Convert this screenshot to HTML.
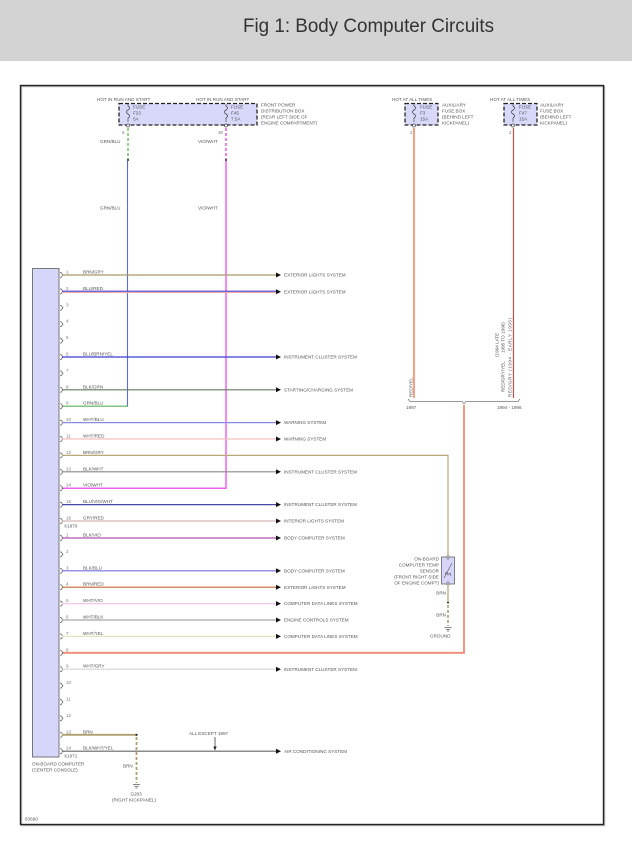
<!DOCTYPE html>
<html><head><meta charset="utf-8"><style>
html,body{margin:0;padding:0;background:#fff;}
svg{display:block;}
.t{font-family:"Liberation Sans",sans-serif;font-size:4.6px;fill:#555;}
.p{font-family:"Liberation Sans",sans-serif;font-size:4.6px;fill:#777;}
</style></head><body>
<svg width="632" height="842" viewBox="0 0 632 842" xmlns="http://www.w3.org/2000/svg">
<rect x="0" y="0" width="632" height="61" fill="#d3d3d3"/>
<text x="243" y="32" font-family="Liberation Sans, sans-serif" font-size="19" fill="#333" textLength="251" lengthAdjust="spacingAndGlyphs">Fig 1: Body Computer Circuits</text>

<!-- frame -->
<rect x="21.5" y="86.5" width="583" height="739" fill="none" stroke="#bbb" stroke-width="1.5"/>
<rect x="20.5" y="85.5" width="583" height="739" fill="none" stroke="#222" stroke-width="1.4"/>

<!-- top left fuses -->
<text class="t" x="97" y="101">HOT IN RUN AND START</text>
<text class="t" x="196" y="101">HOT IN RUN AND START</text>
<rect x="119" y="103.5" width="138" height="21.5" fill="#d8d8fa" stroke="#222" stroke-width="1.3" stroke-dasharray="4,2"/>
<path d="M128,104 l0,2 c2,1 2,3 0,4 c-2,1 -2,3 0,4 c2,1 2,3 0,4 l0,4" fill="none" stroke="#444" stroke-width="0.7"/>
<circle cx="128" cy="125.5" r="1.5" fill="#fff" stroke="#444" stroke-width="0.7"/>
<path d="M226,104 l0,2 c2,1 2,3 0,4 c-2,1 -2,3 0,4 c2,1 2,3 0,4 l0,4" fill="none" stroke="#444" stroke-width="0.7"/>
<circle cx="226" cy="125.5" r="1.5" fill="#fff" stroke="#444" stroke-width="0.7"/>
<text class="t" x="133" y="108.5">FUSE</text>
<text class="t" x="133" y="114.5">F23</text>
<text class="t" x="133" y="120.5">5A</text>
<text class="t" x="231" y="108.5">FUSE</text>
<text class="t" x="231" y="114.5">F45</text>
<text class="t" x="231" y="120.5">7.5A</text>
<text class="t" x="261" y="106.5">FRONT POWER</text>
<text class="t" x="261" y="112.5">DISTRIBUTION BOX</text>
<text class="t" x="261" y="118.5">(REAR LEFT SIDE OF</text>
<text class="t" x="261" y="124.5">ENGINE COMPARTMENT)</text>
<text class="p" x="122" y="134">6</text>
<text class="p" x="218" y="134">30</text>
<text class="t" x="100" y="143">GRN/BLU</text>
<text class="t" x="198" y="143">VIO/WHT</text>
<text class="t" x="100" y="209.5">GRN/BLU</text>
<text class="t" x="198" y="209.5">VIO/WHT</text>
<line x1="128" y1="128" x2="128" y2="159" stroke="#55bb44" stroke-width="1.3" stroke-dasharray="3,2"/>
<line x1="226" y1="128" x2="226" y2="159" stroke="#f050f0" stroke-width="1.5" stroke-dasharray="3,2"/>
<circle cx="128" cy="160" r="1" fill="#222"/>
<circle cx="226" cy="160" r="1" fill="#222"/>
<!-- GRN/BLU vertical -->
<line x1="127.5" y1="161" x2="127.5" y2="406.2" stroke="#5c6cd0" stroke-width="1.1"/>
<line x1="62" y1="406.2" x2="128" y2="406.2" stroke="#5ab05a" stroke-width="1.2"/>
<!-- VIO/WHT vertical -->
<path d="M226,161 V488.2 H62" fill="none" stroke="#f060f0" stroke-width="1.5"/>

<!-- right fuses -->
<text class="t" x="392" y="101">HOT AT ALL TIMES</text>
<text class="t" x="490" y="101">HOT AT ALL TIMES</text>
<rect x="405" y="103.5" width="33" height="21.5" fill="#d8d8fa" stroke="#222" stroke-width="1.3" stroke-dasharray="4,2"/>
<rect x="504" y="103.5" width="33" height="21.5" fill="#d8d8fa" stroke="#222" stroke-width="1.3" stroke-dasharray="4,2"/>
<path d="M414,104 l0,2 c2,1 2,3 0,4 c-2,1 -2,3 0,4 c2,1 2,3 0,4 l0,4" fill="none" stroke="#444" stroke-width="0.7"/>
<circle cx="414" cy="125.5" r="1.5" fill="#fff" stroke="#444" stroke-width="0.7"/>
<path d="M513,104 l0,2 c2,1 2,3 0,4 c-2,1 -2,3 0,4 c2,1 2,3 0,4 l0,4" fill="none" stroke="#444" stroke-width="0.7"/>
<circle cx="513" cy="125.5" r="1.5" fill="#fff" stroke="#444" stroke-width="0.7"/>
<text class="t" x="420" y="108.5">FUSE</text>
<text class="t" x="420" y="114.5">F3</text>
<text class="t" x="420" y="120.5">15A</text>
<text class="t" x="519" y="108.5">FUSE</text>
<text class="t" x="519" y="114.5">F47</text>
<text class="t" x="519" y="120.5">15A</text>
<text class="t" x="442" y="106.5">AUXILIARY</text>
<text class="t" x="442" y="112.5">FUSE BOX</text>
<text class="t" x="442" y="118.5">(BEHIND LEFT</text>
<text class="t" x="442" y="124.5">KICKPANEL)</text>
<text class="t" x="540" y="106.5">AUXILIARY</text>
<text class="t" x="540" y="112.5">FUSE BOX</text>
<text class="t" x="540" y="118.5">(BEHIND LEFT</text>
<text class="t" x="540" y="124.5">KICKPANEL)</text>
<text class="p" x="410" y="134">2</text>
<text class="p" x="509" y="134">2</text>
<line x1="414" y1="128" x2="414" y2="398" stroke="#f8a080" stroke-width="2"/>
<line x1="513.5" y1="128" x2="513.5" y2="398" stroke="#d84040" stroke-width="1.1"/>
<text class="t" transform="translate(412.5,397) rotate(-90)">RED/YEL</text>
<text class="t" transform="translate(511.5,397) rotate(-90)" textLength="79">RED/GRY  (1994 - EARLY 1995)</text>
<text class="t" transform="translate(504.5,392) rotate(-90)">RED/GRY/YEL</text>
<text class="t" transform="translate(504.5,353) rotate(-90)">1995 TO 1996)</text>
<text class="t" transform="translate(498.5,357) rotate(-90)">(1994 LATE</text>
<path d="M408,399 L410,401.5 H462 L464,404 L466,401.5 H518 L520,399" fill="none" stroke="#777" stroke-width="0.7"/>
<text class="t" x="406" y="409">1997</text>
<text class="t" x="497" y="409">1994 - 1996</text>
<!-- orange to pin 8 -->
<path d="M464,405 V652.8 H62" fill="none" stroke="#f08a70" stroke-width="1.8"/>

<!-- connector -->
<rect x="32.5" y="268.5" width="26.5" height="488.5" fill="#d6d6fb" stroke="#777" stroke-width="1"/>

<!-- brackets -->
<g fill="none" stroke="#555" stroke-width="0.7">
<path d="M60,272.5 q2,0 2,1.5 l1,1 l-1,1 q0,1.5 -2,1.5"/>
<path d="M60,288.9 q2,0 2,1.5 l1,1 l-1,1 q0,1.5 -2,1.5"/>
<path d="M60,305.3 q2,0 2,1.5 l1,1 l-1,1 q0,1.5 -2,1.5"/>
<path d="M60,321.7 q2,0 2,1.5 l1,1 l-1,1 q0,1.5 -2,1.5"/>
<path d="M60,338.1 q2,0 2,1.5 l1,1 l-1,1 q0,1.5 -2,1.5"/>
<path d="M60,354.5 q2,0 2,1.5 l1,1 l-1,1 q0,1.5 -2,1.5"/>
<path d="M60,370.9 q2,0 2,1.5 l1,1 l-1,1 q0,1.5 -2,1.5"/>
<path d="M60,387.3 q2,0 2,1.5 l1,1 l-1,1 q0,1.5 -2,1.5"/>
<path d="M60,403.7 q2,0 2,1.5 l1,1 l-1,1 q0,1.5 -2,1.5"/>
<path d="M60,420.1 q2,0 2,1.5 l1,1 l-1,1 q0,1.5 -2,1.5"/>
<path d="M60,436.5 q2,0 2,1.5 l1,1 l-1,1 q0,1.5 -2,1.5"/>
<path d="M60,452.9 q2,0 2,1.5 l1,1 l-1,1 q0,1.5 -2,1.5"/>
<path d="M60,469.3 q2,0 2,1.5 l1,1 l-1,1 q0,1.5 -2,1.5"/>
<path d="M60,485.7 q2,0 2,1.5 l1,1 l-1,1 q0,1.5 -2,1.5"/>
<path d="M60,502.1 q2,0 2,1.5 l1,1 l-1,1 q0,1.5 -2,1.5"/>
<path d="M60,518.5 q2,0 2,1.5 l1,1 l-1,1 q0,1.5 -2,1.5"/>
<path d="M60,535.5 q2,0 2,1.5 l1,1 l-1,1 q0,1.5 -2,1.5"/>
<path d="M60,551.9 q2,0 2,1.5 l1,1 l-1,1 q0,1.5 -2,1.5"/>
<path d="M60,568.3 q2,0 2,1.5 l1,1 l-1,1 q0,1.5 -2,1.5"/>
<path d="M60,584.7 q2,0 2,1.5 l1,1 l-1,1 q0,1.5 -2,1.5"/>
<path d="M60,601.1 q2,0 2,1.5 l1,1 l-1,1 q0,1.5 -2,1.5"/>
<path d="M60,617.5 q2,0 2,1.5 l1,1 l-1,1 q0,1.5 -2,1.5"/>
<path d="M60,633.9 q2,0 2,1.5 l1,1 l-1,1 q0,1.5 -2,1.5"/>
<path d="M60,650.3 q2,0 2,1.5 l1,1 l-1,1 q0,1.5 -2,1.5"/>
<path d="M60,666.7 q2,0 2,1.5 l1,1 l-1,1 q0,1.5 -2,1.5"/>
<path d="M60,683.1 q2,0 2,1.5 l1,1 l-1,1 q0,1.5 -2,1.5"/>
<path d="M60,699.5 q2,0 2,1.5 l1,1 l-1,1 q0,1.5 -2,1.5"/>
<path d="M60,715.9 q2,0 2,1.5 l1,1 l-1,1 q0,1.5 -2,1.5"/>
<path d="M60,732.3 q2,0 2,1.5 l1,1 l-1,1 q0,1.5 -2,1.5"/>
<path d="M60,748.7 q2,0 2,1.5 l1,1 l-1,1 q0,1.5 -2,1.5"/>
</g>

<!-- pin numbers -->
<text class="p" x="66" y="273.5">1</text>
<text class="p" x="66" y="289.9">2</text>
<text class="p" x="66" y="306.3">3</text>
<text class="p" x="66" y="322.7">4</text>
<text class="p" x="66" y="339.1">5</text>
<text class="p" x="66" y="355.5">6</text>
<text class="p" x="66" y="371.9">7</text>
<text class="p" x="66" y="388.3">8</text>
<text class="p" x="66" y="404.7">9</text>
<text class="p" x="66" y="421.1">10</text>
<text class="p" x="66" y="437.5">11</text>
<text class="p" x="66" y="453.9">12</text>
<text class="p" x="66" y="470.3">13</text>
<text class="p" x="66" y="486.7">14</text>
<text class="p" x="66" y="503.1">15</text>
<text class="p" x="66" y="519.5">16</text>
<text class="p" x="66" y="536.5">1</text>
<text class="p" x="66" y="552.9">2</text>
<text class="p" x="66" y="569.3">3</text>
<text class="p" x="66" y="585.7">4</text>
<text class="p" x="66" y="602.1">5</text>
<text class="p" x="66" y="618.5">6</text>
<text class="p" x="66" y="634.9">7</text>
<text class="p" x="66" y="651.3">8</text>
<text class="p" x="66" y="667.7">9</text>
<text class="p" x="66" y="684.1">10</text>
<text class="p" x="66" y="700.5">11</text>
<text class="p" x="66" y="716.9">12</text>
<text class="p" x="66" y="733.3">13</text>
<text class="p" x="66" y="749.7">14</text>
<text class="t" x="64" y="527.5">X1870</text>
<text class="t" x="64" y="757.5">X1071</text>
<text class="t" x="32" y="765.5">ON-BOARD COMPUTER</text>
<text class="t" x="32" y="771.5">(CENTER CONSOLE)</text>

<!-- wires -->
<g stroke-width="1.2" fill="none">
<line x1="62" y1="275" x2="277" y2="275" stroke="#a89868"/>
<line x1="62" y1="292.4" x2="277" y2="292.4" stroke="#f4a8a8"/>
<line x1="62" y1="291.2" x2="277" y2="291.2" stroke="#4444d8"/>
<line x1="62" y1="357" x2="277" y2="357" stroke="#3a3ad0"/>
<line x1="62" y1="389.8" x2="277" y2="389.8" stroke="#607860"/>
<line x1="62" y1="422.6" x2="277" y2="422.6" stroke="#8888e0"/>
<line x1="62" y1="439" x2="277" y2="439" stroke="#f4c0c0"/>
<path d="M62,455.4 H448 V557" stroke="#b8a878"/>
<line x1="62" y1="471.8" x2="277" y2="471.8" stroke="#888"/>
<line x1="62" y1="504.6" x2="277" y2="504.6" stroke="#4848a8"/>
<line x1="62" y1="521" x2="277" y2="521" stroke="#d4b8b8"/>
<line x1="62" y1="538" x2="277" y2="538" stroke="#b050b0"/>
<line x1="62" y1="570.8" x2="277" y2="570.8" stroke="#7070e0"/>
<line x1="62" y1="587.2" x2="277" y2="587.2" stroke="#c06838"/>
<line x1="62" y1="603.6" x2="277" y2="603.6" stroke="#f0c4f0"/>
<line x1="62" y1="620" x2="277" y2="620" stroke="#a8a8a8"/>
<line x1="62" y1="636.4" x2="277" y2="636.4" stroke="#e4e4c0"/>
<line x1="62" y1="669.2" x2="277" y2="669.2" stroke="#d4d4d4"/>
<line x1="62" y1="734.8" x2="136" y2="734.8" stroke="#b0a070" stroke-width="1.8"/>
<line x1="62" y1="751.2" x2="277" y2="751.2" stroke="#666"/>
</g>

<!-- wire labels -->
<text class="t" x="83" y="273.5">BRN/GRY</text>
<text class="t" x="83" y="289.9">BLU/RED</text>
<text class="t" x="83" y="355.5">BLU/BRN/YEL</text>
<text class="t" x="83" y="388.3">BLK/GRN</text>
<text class="t" x="83" y="404.7">GRN/BLU</text>
<text class="t" x="83" y="421.1">WHT/BLU</text>
<text class="t" x="83" y="437.5">WHT/RED</text>
<text class="t" x="83" y="453.9">BRN/GRY</text>
<text class="t" x="83" y="470.3">BLK/WHT</text>
<text class="t" x="83" y="486.7">VIO/WHT</text>
<text class="t" x="83" y="503.1">BLU/VIO/WHT</text>
<text class="t" x="83" y="519.5">GRY/RED</text>
<text class="t" x="83" y="536.5">BLK/VIO</text>
<text class="t" x="83" y="569.3">BLK/BLU</text>
<text class="t" x="83" y="585.7">BRN/RED</text>
<text class="t" x="83" y="602.1">WHT/VIO</text>
<text class="t" x="83" y="618.5">WHT/BLK</text>
<text class="t" x="83" y="634.9">WHT/YEL</text>
<text class="t" x="83" y="667.7">WHT/GRY</text>
<text class="t" x="83" y="733.3">BRN</text>
<text class="t" x="83" y="749.7">BLK/WHT/YEL</text>

<!-- arrows -->
<g fill="#111">
<path d="M276,272.5 L281,275 L276,277.5Z"/>
<path d="M276,289.3 L281,291.8 L276,294.3Z"/>
<path d="M276,354.5 L281,357 L276,359.5Z"/>
<path d="M276,387.3 L281,389.8 L276,392.3Z"/>
<path d="M276,420.1 L281,422.6 L276,425.1Z"/>
<path d="M276,436.5 L281,439 L276,441.5Z"/>
<path d="M276,469.3 L281,471.8 L276,474.3Z"/>
<path d="M276,502.1 L281,504.6 L276,507.1Z"/>
<path d="M276,518.5 L281,521 L276,523.5Z"/>
<path d="M276,535.5 L281,538 L276,540.5Z"/>
<path d="M276,568.3 L281,570.8 L276,573.3Z"/>
<path d="M276,584.7 L281,587.2 L276,589.7Z"/>
<path d="M276,601.1 L281,603.6 L276,606.1Z"/>
<path d="M276,617.5 L281,620 L276,622.5Z"/>
<path d="M276,633.9 L281,636.4 L276,638.9Z"/>
<path d="M276,666.7 L281,669.2 L276,671.7Z"/>
<path d="M276,748.7 L281,751.2 L276,753.7Z"/>
</g>
<text class="t" x="284" y="276.6">EXTERIOR LIGHTS SYSTEM</text>
<text class="t" x="284" y="293.4">EXTERIOR LIGHTS SYSTEM</text>
<text class="t" x="284" y="358.6">INSTRUMENT CLUSTER SYSTEM</text>
<text class="t" x="284" y="391.4">STARTING/CHARGING SYSTEM</text>
<text class="t" x="284" y="424.2">WARNING SYSTEM</text>
<text class="t" x="284" y="440.6">WARNING SYSTEM</text>
<text class="t" x="284" y="473.4">INSTRUMENT CLUSTER SYSTEM</text>
<text class="t" x="284" y="506.2">INSTRUMENT CLUSTER SYSTEM</text>
<text class="t" x="284" y="522.6">INTERIOR LIGHTS SYSTEM</text>
<text class="t" x="284" y="539.6">BODY COMPUTER SYSTEM</text>
<text class="t" x="284" y="572.4">BODY COMPUTER SYSTEM</text>
<text class="t" x="284" y="588.8">EXTERIOR LIGHTS SYSTEM</text>
<text class="t" x="284" y="605.2">COMPUTER DATA LINES SYSTEM</text>
<text class="t" x="284" y="621.6">ENGINE CONTROLS SYSTEM</text>
<text class="t" x="284" y="638">COMPUTER DATA LINES SYSTEM</text>
<text class="t" x="284" y="670.8">INSTRUMENT CLUSTER SYSTEM</text>
<text class="t" x="284" y="752.8">AIR CONDITIONING SYSTEM</text>

<!-- ALL EXCEPT 1997 -->
<text class="t" x="189" y="735">ALL EXCEPT 1997</text>
<line x1="215" y1="737" x2="215" y2="748" stroke="#222" stroke-width="0.7"/>
<path d="M213.3,746.5 L215,750.5 L216.7,746.5Z" fill="#222"/>

<!-- G203 ground -->
<circle cx="136.5" cy="734.8" r="1.1" fill="#222"/>
<line x1="136.5" y1="737" x2="136.5" y2="783" stroke="#b0a070" stroke-width="1.8" stroke-dasharray="3,2"/>
<text class="t" x="123" y="767.5">BRN</text>
<g stroke="#666" stroke-width="0.8">
<line x1="133" y1="784.5" x2="140" y2="784.5"/>
<line x1="134.3" y1="786.3" x2="138.7" y2="786.3"/>
<line x1="135.5" y1="788" x2="137.5" y2="788"/>
</g>
<text class="t" x="130.5" y="795.5">G203</text>
<text class="t" x="112" y="801.5">(RIGHT KICKPANEL)</text>

<!-- temp sensor -->
<rect x="441.5" y="557" width="13" height="27" fill="#d6d6fb" stroke="#666" stroke-width="0.8"/>
<path d="M444,578 L452,563 M445,574 l2,-2 l1,3 l2,-2 l1,3 M448,557 v3 M448,581 v3" fill="none" stroke="#555" stroke-width="0.6"/>
<circle cx="448" cy="557" r="1.2" fill="#fff" stroke="#555" stroke-width="0.6"/>
<circle cx="448" cy="584" r="1.2" fill="#fff" stroke="#555" stroke-width="0.6"/>
<text class="t" x="439" y="560.5" text-anchor="end">ON-BOARD</text>
<text class="t" x="439" y="566.5" text-anchor="end">COMPUTER TEMP</text>
<text class="t" x="439" y="572.5" text-anchor="end">SENSOR</text>
<text class="t" x="439" y="578.5" text-anchor="end">(FRONT RIGHT SIDE</text>
<text class="t" x="439" y="584.5" text-anchor="end">OF ENGINE COMPT)</text>
<text class="t" x="446" y="594.5" text-anchor="end">BRN</text>
<text class="t" x="446" y="616.5" text-anchor="end">BRN</text>
<line x1="448" y1="586" x2="448" y2="601" stroke="#b0a070" stroke-width="1.2"/>
<circle cx="448" cy="602.5" r="1" fill="#222"/>
<line x1="448" y1="605" x2="448" y2="626" stroke="#b0a070" stroke-width="1.6" stroke-dasharray="3,2"/>
<g stroke="#666" stroke-width="0.8">
<line x1="444.5" y1="627.5" x2="451.5" y2="627.5"/>
<line x1="445.8" y1="629.3" x2="450.2" y2="629.3"/>
<line x1="447" y1="631" x2="449" y2="631"/>
</g>
<text class="t" x="430" y="637.5">GROUND</text>

<text class="t" x="25" y="820.5">63690</text>
</svg>
</body></html>
